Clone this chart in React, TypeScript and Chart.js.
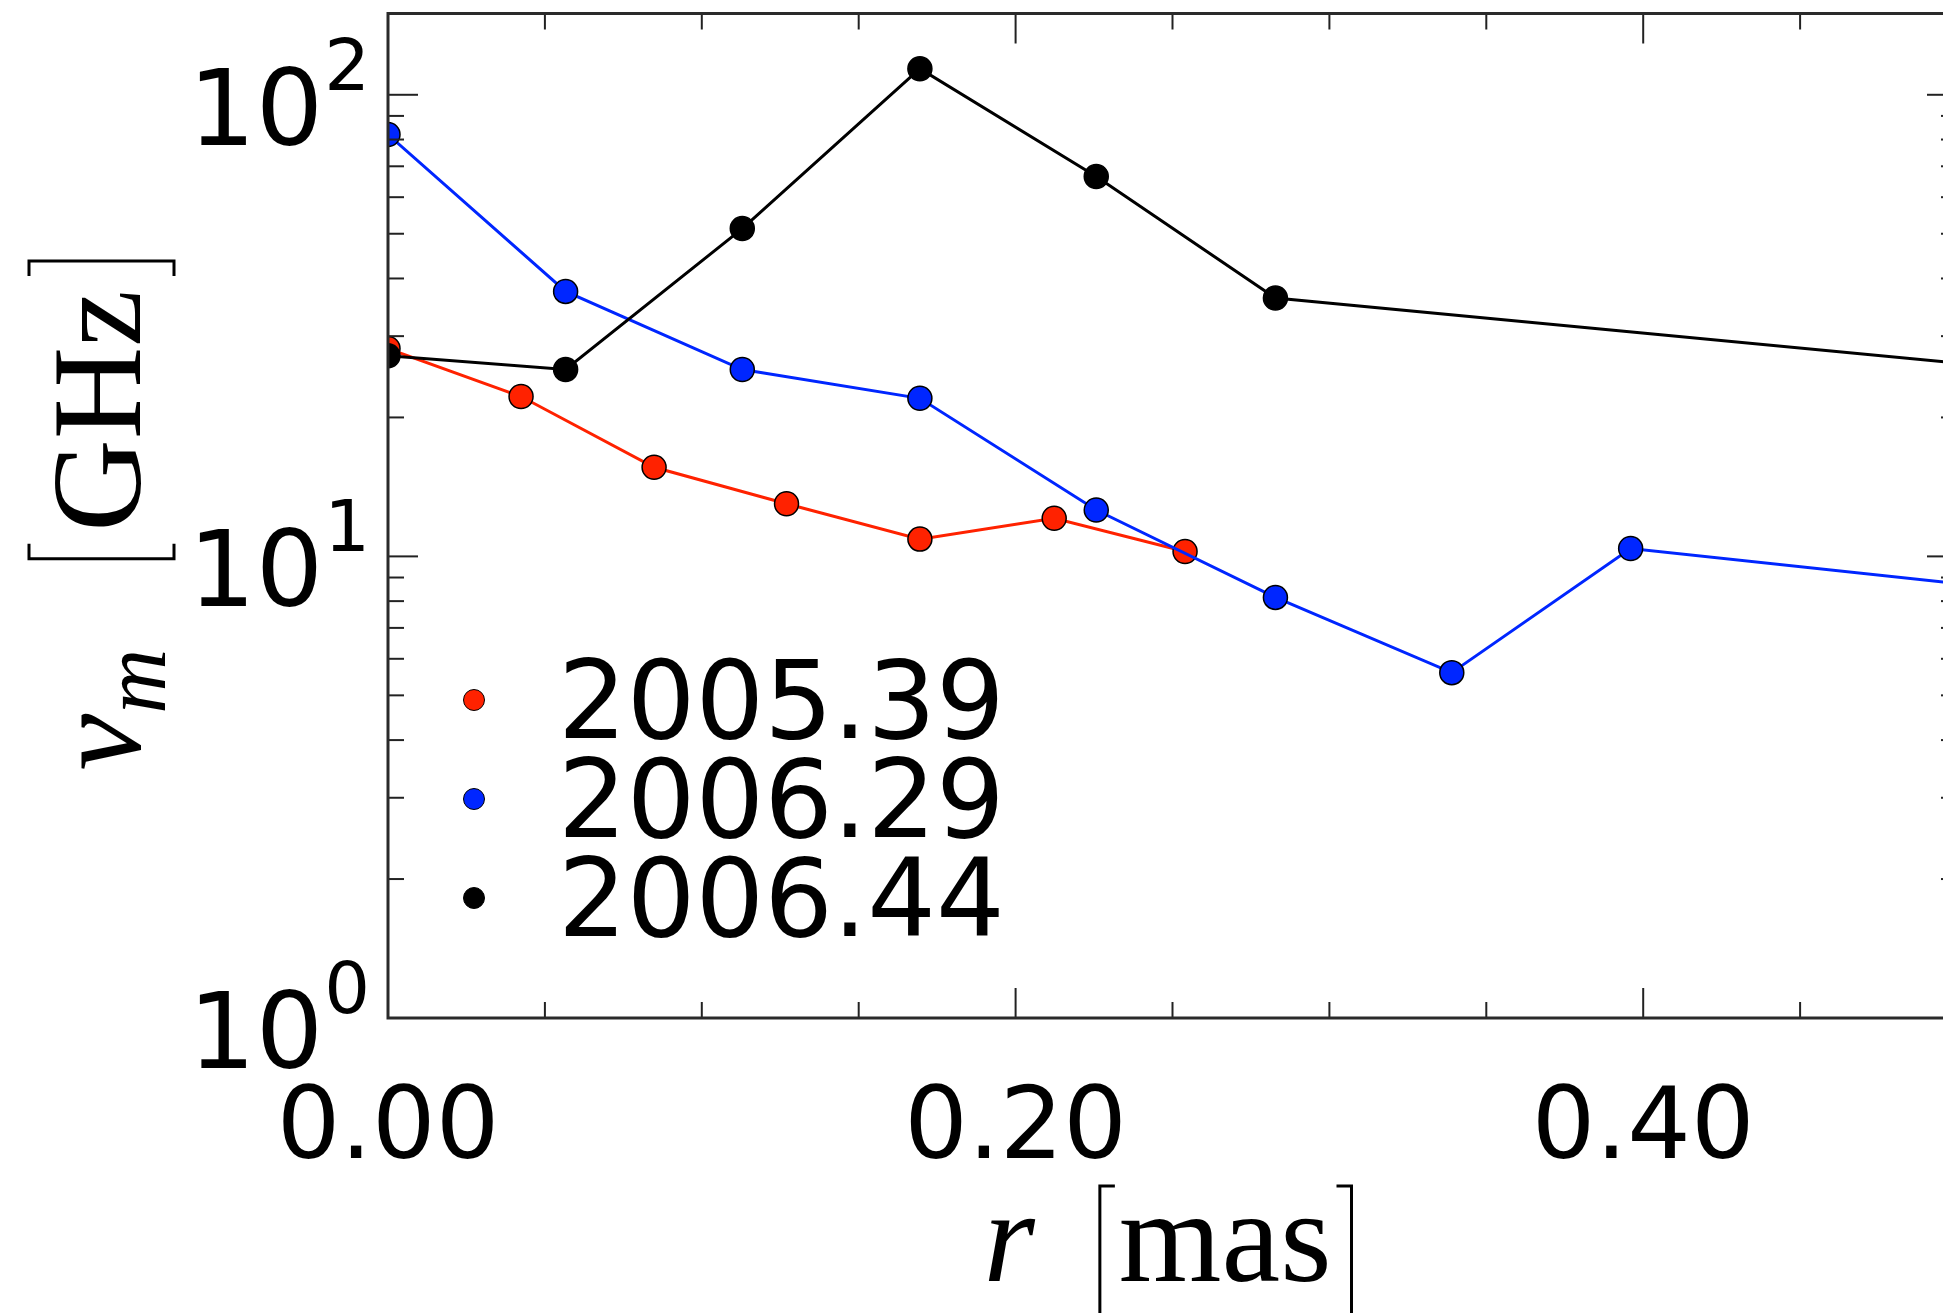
import React, { useEffect, useRef } from "react";
import { Chart, registerables } from "chart.js";

Chart.register(...registerables);

// ---- data ----
const xRed = [0, 0.0424, 0.0848, 0.127, 0.1695, 0.2123, 0.254];
const yRed = [28.2, 22.2, 15.6, 13.0, 10.9, 12.1, 10.25];

const xBlue = [0, 0.0566, 0.1129, 0.1695, 0.2257, 0.2828, 0.339, 0.396, 0.509];
const yBlue = [82, 37.5, 25.4, 22.0, 12.6, 8.15, 5.6, 10.4, 8.6];

const xBlack = [0, 0.0566, 0.1129, 0.1695, 0.2257, 0.2828, 0.509];
const yBlack = [27.2, 25.4, 51.3, 113.9, 66.5, 36.3, 25.9];

const seriesLabels = ["2005.39", "2006.29", "2006.44"];
const seriesColors = ["#ff2200", "#0026ff", "#000000"];

const xRange = [0, 0.5];
const yRange = [1, 150];
const xMajorTicks = [0, 0.2, 0.4];
const xTickLabels = ["0.00", "0.20", "0.40"];
const xMinorStep = 0.05;
const yMajorTicks = [1, 10, 100];
const yTickExponents = ["0", "1", "2"];

const CANVAS_W = 2000;
const CANVAS_H = 1313;
const MAJ = 30;
const MIN = 16;

const SANS = '"DejaVu Sans", sans-serif';
const SERIF = '"Liberation Serif", "DejaVu Serif", serif';

function bracket(ctx: CanvasRenderingContext2D, x: number, top: number, bottom: number, dir: number) {
  ctx.beginPath();
  ctx.moveTo(x + dir * 15, top);
  ctx.lineTo(x, top);
  ctx.lineTo(x, bottom);
  ctx.lineTo(x + dir * 15, bottom);
  ctx.stroke();
}

const framePlugin = {
  id: "frame",
  afterDatasetsDraw(chart: any) {
    const { ctx, chartArea: a, scales } = chart;
    const xs = scales.x;
    const ys = scales.y;
    ctx.save();
    ctx.strokeStyle = "#222";
    ctx.lineWidth = 2;
    const seg = (x1: number, y1: number, x2: number, y2: number) => {
      ctx.beginPath();
      ctx.moveTo(x1, y1);
      ctx.lineTo(x2, y2);
      ctx.stroke();
    };
    // x ticks (bottom + top, pointing in)
    const nx = Math.round((xRange[1] - xRange[0]) / xMinorStep);
    for (let i = 1; i < nx; i++) {
      const v = xRange[0] + i * xMinorStep;
      const major = xMajorTicks.some((m) => Math.abs(m - v) < 1e-9);
      const L = major ? MAJ : MIN;
      const px = xs.getPixelForValue(v);
      seg(px, a.bottom, px, a.bottom - L);
      seg(px, a.top, px, a.top + L);
    }
    // y ticks (left + right)
    for (let k = 0; k < 3; k++) {
      for (let m = 1; m <= 9; m++) {
        const v = m * Math.pow(10, k);
        if (v <= yRange[0] || v >= yRange[1]) continue;
        const L = m === 1 ? MAJ : MIN;
        const py = ys.getPixelForValue(v);
        seg(a.left, py, a.left + L, py);
        seg(a.right, py, a.right - L, py);
      }
    }
    // spines
    ctx.strokeStyle = "#2a2a2a";
    ctx.lineWidth = 3;
    ctx.strokeRect(a.left, a.top, a.right - a.left, a.bottom - a.top);
    ctx.restore();
  },
  afterDraw(chart: any) {
    const { ctx, chartArea: a, scales } = chart;
    const xs = scales.x;
    const ys = scales.y;
    ctx.save();
    ctx.fillStyle = "#000";
    ctx.strokeStyle = "#000";

    // x tick labels
    ctx.font = `100px ${SANS}`;
    ctx.textAlign = "center";
    ctx.textBaseline = "alphabetic";
    xMajorTicks.forEach((v, i) => {
      ctx.fillText(xTickLabels[i], xs.getPixelForValue(v), a.bottom + 140);
    });

    // y tick labels 10^k
    ctx.textAlign = "left";
    yMajorTicks.forEach((v, i) => {
      const py = ys.getPixelForValue(v);
      ctx.font = `72px ${SANS}`;
      const wSup = ctx.measureText(yTickExponents[i]).width;
      ctx.font = `106px ${SANS}`;
      const wMain = ctx.measureText("10").width;
      const right = a.left - 18;
      const supX = right - wSup;
      const mainX = supX - 1 - wMain;
      ctx.fillText("10", mainX, py + 50);
      ctx.font = `72px ${SANS}`;
      ctx.fillText(yTickExponents[i], supX, py - 5);
    });

    // legend
    const lx = a.left + 86;
    const ly0 = a.bottom - 318;
    seriesLabels.forEach((lab, i) => {
      const y = ly0 + i * 99;
      ctx.beginPath();
      ctx.arc(lx, y, 10.5, 0, Math.PI * 2);
      ctx.fillStyle = seriesColors[i];
      ctx.fill();
      ctx.lineWidth = 1;
      ctx.strokeStyle = "#000";
      ctx.stroke();
      ctx.fillStyle = "#000";
      ctx.font = `108px ${SANS}`;
      ctx.textAlign = "left";
      ctx.fillText(lab, lx + 84, y + 38);
    });

    // x axis label: r [mas]
    ctx.lineWidth = 3;
    ctx.strokeStyle = "#000";
    const fs = 132;
    ctx.font = `italic ${fs}px ${SERIF}`;
    const wr = ctx.measureText("r").width;
    ctx.font = `${fs}px ${SERIF}`;
    const wmas = ctx.measureText("mas").width;
    const totalX = wr + 65 + 19 + wmas + 20;
    let cx = (a.left + a.right) / 2 - 5 - totalX / 2;
    const base = a.bottom + 263;
    ctx.font = `italic ${fs}px ${SERIF}`;
    ctx.fillText("r", cx, base);
    cx += wr + 65;
    bracket(ctx, cx, base - 95, base + 45, 1);
    cx += 19;
    ctx.font = `${fs}px ${SERIF}`;
    ctx.fillText("mas", cx, base);
    cx += wmas + 5;
    bracket(ctx, cx + 15, base - 95, base + 45, -1);

    // y axis label: nu_m [GHz]
    const fy = 128;
    ctx.font = `italic ${fy}px ${SERIF}`;
    const wnu = ctx.measureText("\u03bd").width;
    ctx.font = `italic 90px ${SERIF}`;
    const wm = ctx.measureText("m").width;
    ctx.font = `${fy}px ${SERIF}`;
    const wghz = ctx.measureText("GHz").width;
    const totalY = wnu + wm + 90 + 15 + 12 + wghz + 14 + 15;
    const midY = (a.top + a.bottom) / 2;
    ctx.translate(140, midY + totalY / 2);
    ctx.rotate(-Math.PI / 2);
    let t = 0;
    ctx.font = `italic ${fy}px ${SERIF}`;
    ctx.fillText("\u03bd", t, 0);
    t += wnu;
    ctx.font = `italic 90px ${SERIF}`;
    ctx.fillText("m", t, 25);
    t += wm + 90;
    bracket(ctx, t, -111, 34, 1);
    t += 15 + 12;
    ctx.font = `${fy}px ${SERIF}`;
    ctx.fillText("GHz", t, 0);
    t += wghz + 14 + 15;
    bracket(ctx, t, -111, 34, -1);

    ctx.restore();
  },
};

function makeDataset(xs: number[], ys: number[], idx: number, order: number) {
  return {
    label: seriesLabels[idx],
    data: xs.map((x, i) => ({ x, y: ys[i] })),
    borderColor: seriesColors[idx],
    backgroundColor: seriesColors[idx],
    borderWidth: 3,
    pointRadius: 12,
    pointBackgroundColor: seriesColors[idx],
    pointBorderColor: "#000",
    pointBorderWidth: 1.5,
    tension: 0,
    fill: false,
    order,
  };
}

export default function App() {
  const ref = useRef<HTMLCanvasElement | null>(null);
  useEffect(() => {
    if (!ref.current) return;
    const chart = new Chart(ref.current, {
      type: "line",
      data: {
        datasets: [
          makeDataset(xRed, yRed, 0, 3),
          makeDataset(xBlue, yBlue, 1, 2),
          makeDataset(xBlack, yBlack, 2, 1),
        ],
      },
      options: {
        animation: false,
        responsive: false,
        devicePixelRatio: 1,
        layout: { padding: { left: 0, right: CANVAS_W - 1957, top: 12, bottom: 0 } },
        plugins: { legend: { display: false }, tooltip: { enabled: false } },
        scales: {
          x: {
            type: "linear",
            min: xRange[0],
            max: xRange[1],
            grid: { display: false },
            border: { display: false },
            ticks: { display: false },
            afterFit: (s: any) => {
              s.height = 295;
            },
          },
          y: {
            type: "logarithmic",
            min: yRange[0],
            max: yRange[1],
            grid: { display: false },
            border: { display: false },
            ticks: { display: false },
            afterFit: (s: any) => {
              s.width = 388;
            },
          },
        },
      } as any,
      plugins: [framePlugin],
    });
    return () => chart.destroy();
  }, []);
  return (
    <div
      style={{
        position: "fixed",
        left: 0,
        top: 0,
        width: "100vw",
        height: "100vh",
        overflow: "hidden",
        background: "#fff",
      }}
    >
      <canvas
        ref={ref}
        width={CANVAS_W}
        height={CANVAS_H}
        style={{ width: CANVAS_W, height: CANVAS_H, display: "block" }}
      />
    </div>
  );
}
